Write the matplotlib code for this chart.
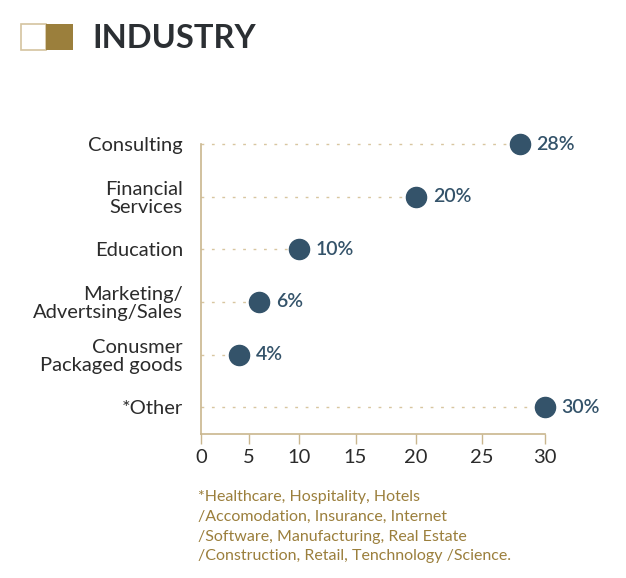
import numpy as np
import matplotlib
matplotlib.use("Agg")
import matplotlib.pyplot as plt
from matplotlib.patches import Rectangle

categories = ["Consulting", "Financial\nServices", "Education",
              "Marketing/\nAdvertsing/Sales", "Conusmer\nPackaged goods", "*Other"]
values = [28, 20, 10, 6, 4, 30]
value_labels = ["28%", "20%", "10%", "6%", "4%", "30%"]
x_ticks = [0, 5, 10, 15, 20, 25, 30]
title = "INDUSTRY"
footnote = ("*Healthcare, Hospitality, Hotels\n/Accomodation, Insurance, Internet\n"
            "/Software, Manufacturing, Real Estate\n/Construction, Retail, Tenchnology /Science.")

# the source axis is drawn with uneven tick spacing; reproduce with a piecewise scale
scale_anchor = [0, 48, 98, 154.5, 215, 281, 344]

def fwd(x):
    return np.interp(x, x_ticks, scale_anchor)

def inv(y):
    return np.interp(y, scale_anchor, x_ticks)

plt.rcParams['font.family'] = ['Lato', 'DejaVu Sans']

W, H = 626, 578
fig = plt.figure(figsize=(W / 100, H / 100), dpi=100)
ax = fig.add_axes([201 / W, 1 - 434 / H, (545 - 201) / W, (434 - 144) / H])

dot_color = "#34536a"
tan = "#c9b68e"
gold = "#9b7f3c"

ax.set_xscale("function", functions=(fwd, inv))
ypos = np.arange(len(categories))
for y, v, lab in zip(ypos, values, value_labels):
    ax.plot([0, v], [y, y], color="#d8c6a0", lw=1.0, linestyle=(0, (2, 5.5)),
            clip_on=False, zorder=1)
    ax.plot([v], [y], "o", color=dot_color, markersize=14.5, clip_on=False, zorder=3)
    ax.annotate(lab, (v, y), xytext=(12, 0), textcoords="offset points",
                va="center", ha="left", fontsize=14, fontweight="semibold",
                color=dot_color, annotation_clip=False)

ax.set_xlim(0, 30)
ax.set_ylim(len(categories) - 1 + 0.51, 0)
ax.set_xticks(x_ticks)
ax.set_xticklabels([str(t) for t in x_ticks])
ax.set_yticks(ypos)
ax.set_yticklabels(categories, fontsize=14.5, color="#2b2b2b", linespacing=1.05)
ax.tick_params(axis="y", length=0, pad=13)
ax.tick_params(axis="x", length=7, width=1, color=tan, labelsize=14.5,
               labelcolor="#2b2b2b", pad=4)
for s in ["top", "right"]:
    ax.spines[s].set_visible(False)
for s in ["left", "bottom"]:
    ax.spines[s].set_color(tan)
    ax.spines[s].set_linewidth(1.2)

# title icon
fig.patches.append(Rectangle((21 / W, 1 - 50 / H), 25 / W, 26 / H, transform=fig.transFigure,
                             facecolor="white", edgecolor="#d4c4a0", lw=1.2))
fig.patches.append(Rectangle((46 / W, 1 - 50 / H), 27 / W, 26 / H, transform=fig.transFigure,
                             facecolor=gold, edgecolor=gold, lw=0))
fig.text(92 / W, 1 - 38 / H, title, fontsize=23.5, fontweight="bold", color="#2b2f33",
         va="center", ha="left")

fig.text(198 / W, 1 - 490 / H, footnote, fontsize=11.5, color="#9b7f3c",
         va="top", ha="left", linespacing=1.53)

fig.savefig("out.png", dpi=100)
